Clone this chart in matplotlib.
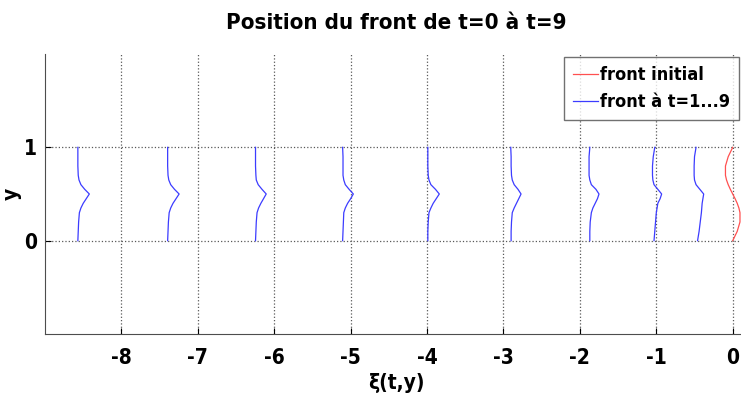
import matplotlib
matplotlib.use("Agg")
import matplotlib.pyplot as plt

plt.rcParams['font.family'] = ['DejaVu Sans']
plt.rcParams['font.stretch'] = 'condensed'
plt.rcParams['axes.unicode_minus'] = False

# common y sampling of every front
y_pts = [0, 0.1, 0.2, 0.3, 0.35, 0.4, 0.45, 0.5, 0.55, 0.6, 0.65, 0.7, 0.8, 0.9, 1.0]

# initial front (t=0)
front_0 = [0, 0.059, 0.095, 0.095, 0.081, 0.059, 0.031, 0, -0.031, -0.059, -0.081, -0.095, -0.095, -0.059, 0]

# fronts at t=1..9
fronts = [
    [-0.46, -0.44, -0.425, -0.41, -0.405, -0.40, -0.39, -0.38, -0.43, -0.48, -0.50, -0.505, -0.505, -0.50, -0.48],
    [-1.03, -1.02, -1.01, -1.00, -0.99, -0.98, -0.95, -0.93, -0.98, -1.03, -1.045, -1.05, -1.05, -1.04, -1.02],
    [-1.87, -1.87, -1.865, -1.85, -1.83, -1.80, -1.77, -1.75, -1.79, -1.85, -1.87, -1.88, -1.88, -1.88, -1.87],
    [-2.90, -2.90, -2.895, -2.885, -2.86, -2.83, -2.80, -2.77, -2.81, -2.86, -2.885, -2.895, -2.90, -2.90, -2.905],
    [-3.99, -3.99, -3.985, -3.975, -3.95, -3.92, -3.88, -3.84, -3.89, -3.95, -3.975, -3.985, -3.99, -3.99, -3.99],
    [-5.105, -5.10, -5.095, -5.09, -5.07, -5.04, -5.00, -4.965, -5.02, -5.07, -5.09, -5.10, -5.10, -5.10, -5.105],
    [-6.245, -6.24, -6.235, -6.225, -6.205, -6.175, -6.14, -6.105, -6.16, -6.21, -6.235, -6.24, -6.245, -6.245, -6.245],
    [-7.395, -7.39, -7.385, -7.375, -7.355, -7.325, -7.285, -7.245, -7.305, -7.355, -7.38, -7.39, -7.395, -7.395, -7.395],
    [-8.57, -8.565, -8.56, -8.55, -8.53, -8.50, -8.46, -8.42, -8.48, -8.53, -8.555, -8.565, -8.57, -8.57, -8.57],
]

x_ticks = [-8, -7, -6, -5, -4, -3, -2, -1, 0]
y_ticks = [0, 1]

fig = plt.figure(figsize=(7.41, 3.94), dpi=100)
ax = fig.add_axes([45 / 741, 1 - 334 / 394, 703 / 741, 280 / 394])

ax.plot(front_0, y_pts, color='#ff5050', lw=0.9, label='front initial')
for i, xf in enumerate(fronts):
    ax.plot(xf, y_pts, color='#3c3cff', lw=0.9, label='front à t=1...9' if i == 0 else None)

ax.set_xlim(-9, 0.2)
ax.set_ylim(-1, 2)
ax.set_xticks(x_ticks)
ax.set_yticks(y_ticks)
ax.grid(True, linestyle=':', color='0.35', linewidth=0.9)
ax.tick_params(direction='in', length=4, labelsize=15, pad=10)
ax.tick_params(axis='y', pad=6)
for lab in ax.get_xticklabels() + ax.get_yticklabels():
    lab.set_fontweight('bold')
ax.spines['top'].set_visible(False)
ax.spines['right'].set_visible(False)
for s in ('left', 'bottom'):
    ax.spines[s].set_color('0.3')

ax.set_title('Position du front de t=0 à t=9', fontsize=16, fontweight='bold', pad=18)
ax.set_xlabel('ξ(t,y)', fontsize=15, fontweight='bold', labelpad=4)
ax.set_ylabel('y', fontsize=15, fontweight='bold')
ax.yaxis.set_label_coords(-23 / 703, 0.5)

leg = ax.legend(loc='upper right', bbox_to_anchor=((739 - 45) / 703, (334 - 57) / 280),
                fontsize=13, frameon=True, fancybox=False,
                handlelength=1.4, handletextpad=0.1, borderaxespad=0.0,
                borderpad=0.5, labelspacing=0.5)
leg.get_frame().set_edgecolor('0.3')
leg.get_frame().set_linewidth(1.0)
for t in leg.get_texts():
    t.set_fontweight('bold')

fig.savefig('out.png', dpi=100)
